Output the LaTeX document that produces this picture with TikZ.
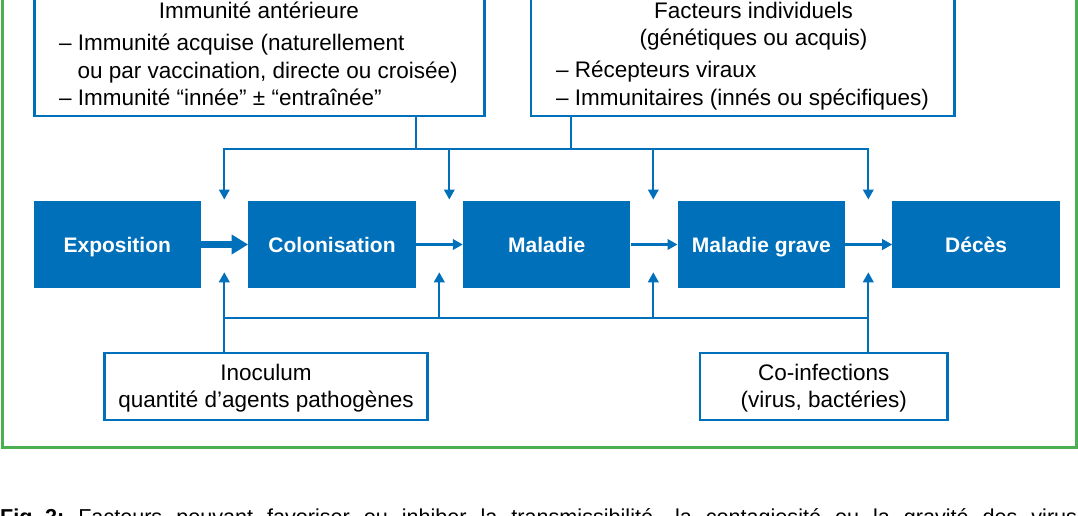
\documentclass[tikz,border=0pt]{standalone}
\usepackage{fontspec}
\setmainfont{Liberation Sans}
\usetikzlibrary{arrows.meta}
\definecolor{mblue}{RGB}{0,112,186}
\definecolor{mgreen}{RGB}{76,175,80}
\tikzset{
  frame/.style={draw=mgreen, line width=3pt},
  infobox/.style={draw=mblue, line width=2.4pt, inner sep=0pt, anchor=south west},
  stagebox/.style={fill=mblue, text=white, font=\fontsize{21pt}{25pt}\selectfont\bfseries,
    minimum width=167.4pt, minimum height=87.6pt, inner sep=0pt, text height=15.2pt, text depth=0pt},
  txt/.style={inner sep=0pt, font=\fontsize{22.5pt}{27pt}\selectfont},
  conn/.style={draw=mblue, line width=2.2pt},
  arr/.style={conn, -{Triangle[length=10pt,width=10.5pt]}},
  bigarr/.style={draw=mblue, line width=6.7pt, -{Triangle[length=16.6pt,width=19pt]}},
}
\begin{document}
\begin{tikzpicture}[x=1pt,y=-1pt]
\path[use as bounding box, fill=white] (0,0) rectangle (1078,516);
\clip (0,0) rectangle (1078,516);

% green frame
\draw[frame] (2.8,-20) rectangle (1076.3,447.5);

% top info boxes
\node[infobox, minimum width=449.7pt, minimum height=160pt] (imm) at (33.4,117.3) {};
\node[infobox, minimum width=423.3pt, minimum height=160pt] (fact) at (530,117.3) {};

\node[txt, anchor=base] (immt) at (259,18.8) {Immunité antérieure};
\node[txt, anchor=base west] (imm1) at (59,50.5) {– Immunité acquise (naturellement};
\node[txt, anchor=base west] (imm2) at (77.3,78.5) {ou par vaccination, directe ou croisée)};
\node[txt, anchor=base west] (imm3) at (59,105.5) {– Immunité “innée” ± “entraînée”};

\node[txt, anchor=base] (factt) at (753.5,18.5) {Facteurs individuels};
\node[txt, anchor=base] (fact1) at (753.5,45.5) {(génétiques ou acquis)};
\node[txt, anchor=base west] (fact2) at (556,77.5) {– Récepteurs viraux};
\node[txt, anchor=base west] (fact3) at (556,105.3) {– Immunitaires (innés ou spécifiques)};

% stages
\node[stagebox] (expo) at (117.3,244.5) {Exposition};
\node[stagebox] (colo) at (332.0,244.5) {Colonisation};
\node[stagebox] (mal)  at (546.7,244.5) {Maladie};
\node[stagebox] (grav) at (761.4,244.5) {Maladie grave};
\node[stagebox] (dec)  at (976.1,244.5) {Décès};

% bottom info boxes
\node[infobox, anchor=center, minimum width=323.1pt, minimum height=67.3pt] (inoc) at (266,386.35) {};
\node[infobox, anchor=center, minimum width=247.4pt, minimum height=67.3pt] (coinf) at (823.7,386.35) {};
\node[txt, anchor=base] (inoc1) at (266,380) {Inoculum};
\node[txt, anchor=base] (inoc2) at (266,407.3) {quantité d’agents pathogènes};
\node[txt, anchor=base] (coinf1) at (823.7,380) {Co-infections};
\node[txt, anchor=base] (coinf2) at (823.7,407.3) {(virus, bactéries)};

% main chain
\draw[bigarr] (expo.east) -- (colo.west);
\draw[arr] (colo.east) -- (mal.west);
\draw[arr] (mal.east) -- (grav.west);
\draw[arr] (grav.east) -- (dec.west);

% top bus
\coordinate (ts1) at (415.7,149);
\coordinate (ts2) at (571.3,149);
\coordinate (tbL) at (224.3,149);
\coordinate (tbR) at (868.3,149);
\coordinate (td2) at (449.3,149);
\coordinate (td3) at (653.3,149);
\coordinate (dtip) at (0,199.5);
\draw[conn] (imm.south -| ts1) -- (ts1);
\draw[conn] (fact.south -| ts2) -- (ts2);
\draw[conn] (ts1) -- (ts2);
\draw[arr] (ts1) -- (tbL) -- (tbL |- dtip);
\draw[arr] (ts2) -- (tbR) -- (tbR |- dtip);
\draw[arr] (td2) -- (td2 |- dtip);
\draw[arr] (td3) -- (td3 |- dtip);

% bottom bus
\coordinate (bbL) at (224.3,318.3);
\coordinate (bbR) at (868.3,318.3);
\coordinate (bu2) at (439.3,318.3);
\coordinate (bu3) at (653.3,318.3);
\coordinate (utip) at (0,272.3);
\draw[arr] (inoc.north -| bbL) -- (bbL |- utip);
\draw[arr] (coinf.north -| bbR) -- (bbR |- utip);
\draw[conn] (bbL) -- (bbR);
\draw[arr] (bu2) -- (bu2 |- utip);
\draw[arr] (bu3) -- (bu3 |- utip);

% caption (cut by the lower edge, as in the reference)
\node[inner sep=0pt, anchor=base west, font=\fontsize{21.6pt}{26pt}\selectfont] (cap) at (0,524)
  {\makebox[1077pt][s]{\mbox{\textbf{Fig.\kern0.3em2:}} Facteurs pouvant favoriser ou inhiber la transmissibilité, la contagiosité ou la gravité des virus}};
\end{tikzpicture}
\end{document}
